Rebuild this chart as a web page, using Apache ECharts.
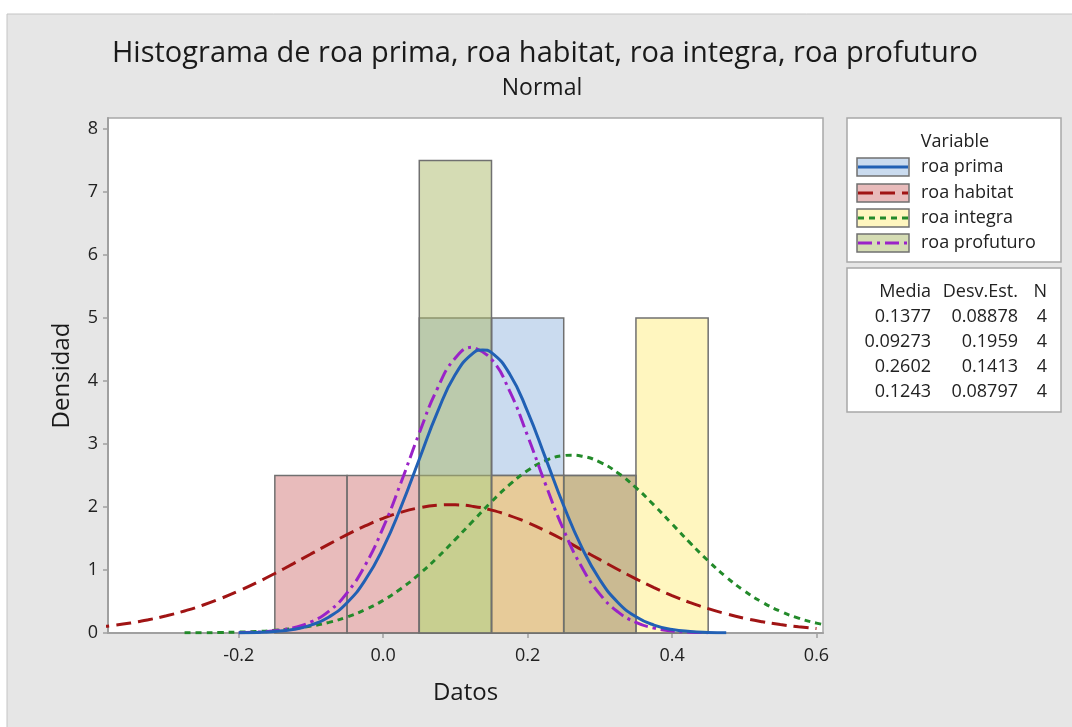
<!DOCTYPE html>
<html>
<head>
<meta charset="utf-8">
<script src="https://cdn.jsdelivr.net/npm/echarts@6/dist/echarts.min.js"></script>
<style>
html,body{margin:0;padding:0;background:#ffffff;}
#chart{width:1072px;height:727px;}
</style>
</head>
<body>
<div id="chart"></div>
<script>
// ---- Data ----
var seriesNames = ['roa prima', 'roa habitat', 'roa integra', 'roa profuturo'];
var binStart = [-0.15, -0.05, 0.05, 0.15, 0.25, 0.35];
var binEnd   = [-0.05,  0.05, 0.15, 0.25, 0.35, 0.45];
var densPrima     = [0,   0,   5,   5,   0,   0];
var densHabitat   = [2.5, 2.5, 0,   2.5, 2.5, 0];
var densIntegra   = [0,   0,   2.5, 2.5, 0,   5];
var densProfuturo = [0,   0,   7.5, 0,   2.5, 0];

var curveX = [-0.400,-0.375,-0.350,-0.325,-0.300,-0.275,-0.250,-0.225,-0.200,-0.175,-0.150,-0.125,-0.100,-0.075,-0.050,-0.025,0.000,0.025,0.050,0.075,0.100,0.125,0.150,0.175,0.200,0.225,0.250,0.275,0.300,0.325,0.350,0.375,0.400,0.425,0.450,0.475,0.500,0.525,0.550,0.575,0.600,0.625];
var curvePrima = [null,null,null,null,null,null,null,null,
  0.003,0.009,0.024,0.057,0.125,0.255,0.481,0.839,1.350,2.009,2.759,3.503,4.106,4.448,4.451,4.115,3.513,2.772,2.019,1.360,0.845,0.485,0.258,0.126,0.057,0.024,0.009,0.003,
  null,null,null,null,null,null];
var curveHabitat = [0.086,0.118,0.158,0.210,0.273,0.350,0.440,0.547,0.667,0.800,0.945,1.097,1.255,1.411,1.561,1.699,1.820,1.918,1.988,2.028,2.035,2.009,1.951,1.864,1.753,1.621,1.476,1.321,1.164,1.008,0.860,0.721,0.595,0.483,0.386,0.304,0.235,0.179,0.134,0.099,0.071,null];
var curveIntegra = [null,null,null,null,null,
  0.002,0.004,0.008,0.014,0.025,0.042,0.069,0.110,0.169,0.254,0.369,0.518,0.707,0.934,1.197,1.486,1.786,2.083,2.354,2.578,2.737,2.816,2.807,2.713,2.541,2.307,2.029,1.731,1.430,1.146,0.889,0.669,0.488,0.345,0.236,0.157,0.101];
var curveProfuturo = [null,null,null,null,null,null,null,null,
  0.005,0.014,0.035,0.082,0.176,0.348,0.638,1.074,1.672,2.398,3.174,3.877,4.366,4.535,4.346,3.842,3.131,2.355,1.634,1.046,0.617,0.336,0.169,0.078,0.033,0.013,0.005,
  null,null,null,null,null,null,null];
// peak (top) point of each curve, read at its mean
var peakX = [0.1377, 0.0927, 0.2602, 0.1243];
var peakY = [4.494, 2.036, 2.823, 4.535];

var xTicks = [-0.2, 0.0, 0.2, 0.4, 0.6];

var statHeader = ['Media', 'Desv.Est.', 'N'];
var statMedia = ['0.1377', '0.09273', '0.2602', '0.1243'];
var statDesv  = ['0.08878', '0.1959', '0.1413', '0.08797'];
var statN     = ['4', '4', '4', '4'];

// ---- Styles ----
var FONT = 'Open Sans';
var fills = ['rgba(149,183,223,0.5)', 'rgba(209,119,119,0.5)', 'rgba(255,237,127,0.5)', 'rgba(171,185,105,0.5)'];
var swatchFills = ['#cadbef', '#e8bbbb', '#fff6bf', '#d5dcb4'];
var lineColors = ['#2160b4', '#a01414', '#238a2a', '#9a22c8'];
var lineTypes = ['solid', [15, 7], [6, 5], [14, 5, 3, 5]];
var densAll = [densPrima, densHabitat, densIntegra, densProfuturo];
var curvesAll = [curvePrima, curveHabitat, curveIntegra, curveProfuturo];
var lineZ = [4, 3, 3, 3];

var series = [];
densAll.forEach(function (dens, k) {
  var data = [];
  for (var i = 0; i < binStart.length; i++) {
    if (dens[i] > 0) data.push([binStart[i], binEnd[i], dens[i]]);
  }
  series.push({
    type: 'custom',
    name: seriesNames[k] + ' hist',
    z: 2,
    data: data,
    renderItem: function (params, api) {
      var p0 = api.coord([api.value(0), api.value(2)]);
      var p1 = api.coord([api.value(1), 0]);
      return {
        type: 'rect',
        shape: { x: p0[0], y: p0[1], width: p1[0] - p0[0], height: p1[1] - p0[1] },
        style: { fill: fills[k], stroke: '#707070', lineWidth: 1.5 }
      };
    }
  });
});
curvesAll.forEach(function (ys, k) {
  var data = [];
  for (var i = 0; i < curveX.length; i++) {
    if (ys[i] !== null) data.push([curveX[i], ys[i]]);
  }
  data.push([peakX[k], peakY[k]]);
  data.sort(function (a, b) { return a[0] - b[0]; });
  series.push({
    type: 'line',
    name: seriesNames[k],
    z: lineZ[k],
    data: data,
    smooth: 0.5,
    showSymbol: false,
    symbol: 'none',
    clip: true,
    lineStyle: { color: lineColors[k], width: 3, type: lineTypes[k] }
  });
});

// ---- Legend & stats via graphic ----
var TXT = '18px "' + FONT + '"';
var graphics = [];
graphics.push({ type: 'rect', shape: { x: 7, y: 14, width: 1070, height: 720 }, style: { fill: '#e6e6e6', stroke: '#c4c4c4', lineWidth: 1 }, z: -10 });
graphics.push({ type: 'rect', shape: { x: 847, y: 118, width: 214, height: 144 }, style: { fill: '#ffffff', stroke: '#a8a8a8', lineWidth: 1.5 } });
graphics.push({ type: 'rect', shape: { x: 847, y: 268, width: 214, height: 144 }, style: { fill: '#ffffff', stroke: '#a8a8a8', lineWidth: 1.5 } });
graphics.push({ type: 'text', x: 955, y: 142, style: { text: 'Variable', font: TXT, fill: '#222', textAlign: 'center', textVerticalAlign: 'middle' } });
var rowY = [167, 193, 218, 243];
for (var k = 0; k < 4; k++) {
  graphics.push({ type: 'rect', shape: { x: 857, y: rowY[k] - 9, width: 52, height: 18 }, style: { fill: swatchFills[k], stroke: '#707070', lineWidth: 1.5 } });
  graphics.push({ type: 'line', shape: { x1: 858, y1: rowY[k], x2: 908, y2: rowY[k] }, style: { stroke: lineColors[k], lineWidth: 3, lineDash: lineTypes[k] === 'solid' ? null : lineTypes[k] } });
  graphics.push({ type: 'text', x: 921, y: rowY[k], style: { text: seriesNames[k], font: TXT, fill: '#222', textVerticalAlign: 'middle' } });
}
var colRight = [931, 1018, 1047];
var statRowsY = [292, 317, 342, 367, 392];
for (var c = 0; c < 3; c++) {
  graphics.push({ type: 'text', x: colRight[c], y: statRowsY[0], style: { text: statHeader[c], font: TXT, fill: '#222', textAlign: 'right', textVerticalAlign: 'middle' } });
}
for (var r = 0; r < 4; r++) {
  var vals = [statMedia[r], statDesv[r], statN[r]];
  for (var c2 = 0; c2 < 3; c2++) {
    graphics.push({ type: 'text', x: colRight[c2], y: statRowsY[r + 1], style: { text: vals[c2], font: TXT, fill: '#222', textAlign: 'right', textVerticalAlign: 'middle' } });
  }
}

var chart = echarts.init(document.getElementById('chart'), null, { renderer: 'canvas' });
chart.setOption({
  animation: false,
  backgroundColor: '#ffffff',
  title: [
    { text: 'Histograma de roa prima, roa habitat, roa integra, roa profuturo', left: 545, top: 38, textAlign: 'center', padding: 0,
      textStyle: { fontFamily: FONT, fontSize: 29, lineHeight: 31, fontWeight: 'normal', color: '#1a1a1a' } },
    { text: 'Normal', left: 542, top: 75, textAlign: 'center', padding: 0,
      textStyle: { fontFamily: FONT, fontSize: 23, lineHeight: 26, fontWeight: 'normal', color: '#1a1a1a' } }
  ],
  graphic: graphics,
  grid: { left: 108, top: 118, right: 249, bottom: 94, show: true, backgroundColor: '#ffffff', borderColor: '#a8a8a8', borderWidth: 1.5, containLabel: false },
  xAxis: {
    type: 'value', min: -0.381, max: 0.609,
    name: 'Datos', nameLocation: 'middle', nameGap: 48,
    nameTextStyle: { fontFamily: FONT, fontSize: 24, color: '#1a1a1a' },
    axisLine: { show: true, onZero: false, lineStyle: { color: '#a0a0a0', width: 2 } },
    axisTick: { show: true, customValues: xTicks, length: 5, lineStyle: { color: '#a0a0a0', width: 1.5 } },
    axisLabel: { customValues: xTicks, fontFamily: FONT, fontSize: 18, color: '#222', margin: 14,
      formatter: function (v) { return v.toFixed(1); } },
    splitLine: { show: false }
  },
  yAxis: {
    type: 'value', min: 0, max: 8.175, interval: 1,
    name: 'Densidad', nameLocation: 'middle', nameGap: 34,
    nameTextStyle: { fontFamily: FONT, fontSize: 24, color: '#1a1a1a' },
    axisLine: { show: true, onZero: false, lineStyle: { color: '#a0a0a0', width: 2 } },
    axisTick: { show: true, length: 5, lineStyle: { color: '#a0a0a0', width: 1.5 } },
    axisLabel: { fontFamily: FONT, fontSize: 18, color: '#222', margin: 10 },
    splitLine: { show: false }
  },
  series: series
});
</script>
</body>
</html>
